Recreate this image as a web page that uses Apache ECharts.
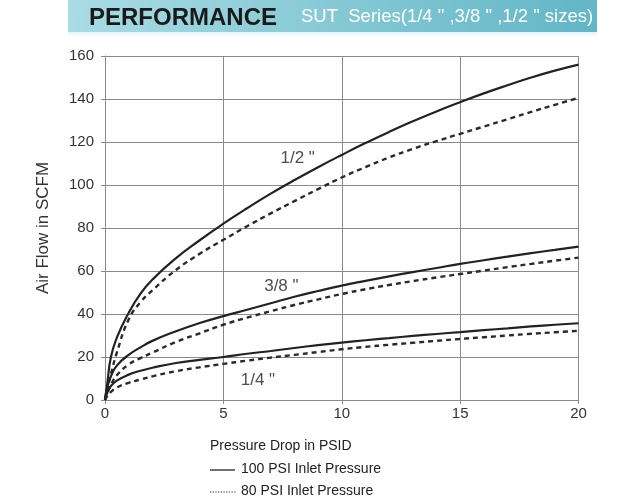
<!DOCTYPE html>
<html>
<head>
<meta charset="utf-8">
<script src="https://cdn.jsdelivr.net/npm/echarts@6/dist/echarts.min.js"></script>
<style>
html,body{margin:0;padding:0;background:#fff;}
#chart{width:624px;height:501px;}
</style>
</head>
<body>
<div id="chart"></div>
<script>
// Pressure drop (PSID)
var pressureDrop = [0, 0.1, 0.25, 0.5, 1, 1.5, 2, 3, 4, 5, 6, 7, 8, 9, 10, 11, 12, 13, 14, 15, 16, 17, 18, 19, 20];
// Air flow (SCFM)
var half100 = [0, 8, 20, 29, 40.5, 49.5, 56, 66, 74.3, 82, 89.2, 96, 102.3, 108.3, 114, 119.5, 124.7, 129.6, 134.2, 138.5, 142.6, 146.4, 150, 153.2, 156];
var half80  = [0, 5, 12, 22, 37.5, 45.5, 51, 60.5, 68, 74.5, 80.8, 86.8, 92.5, 98.1, 103.5, 108.3, 112.8, 116.8, 120.4, 123.8, 127.2, 130.6, 134, 137.3, 140.5];
var tq100   = [0, 6, 11, 16, 21, 24.5, 27.5, 32, 35.8, 39, 42, 45, 48, 50.7, 53.2, 55.4, 57.5, 59.5, 61.4, 63.3, 65, 66.7, 68.3, 69.8, 71.3];
var tq80    = [0, 3.5, 7, 11.5, 16.5, 19.5, 22, 27, 31, 35, 38.3, 41.3, 44.2, 46.8, 49.3, 51.5, 53.5, 55.3, 57, 58.6, 60.2, 61.8, 63.3, 64.8, 66.2];
var q100    = [0, 3.5, 6.5, 9, 11.8, 13.6, 15, 17.2, 18.7, 20, 21.5, 22.8, 24.2, 25.5, 26.7, 27.8, 28.8, 29.8, 30.7, 31.6, 32.5, 33.3, 34.2, 35, 35.7];
var q80     = [0, 2, 3.8, 5.8, 8, 9.5, 11, 13.4, 15.2, 16.8, 18.3, 19.7, 21, 22.3, 23.6, 24.7, 25.7, 26.6, 27.5, 28.4, 29.2, 30, 30.8, 31.5, 32.2];

var sizeLabels = ['1/2 "', '3/8 "', '1/4 "'];
var sizeLabelX = [8.14, 7.45, 6.46];
var sizeLabelY = [112.6, 53, 9];

var xTicks = [0, 5, 10, 15, 20];
var yTicks = [0, 20, 40, 60, 80, 100, 120, 140, 160];

var titleMain = 'PERFORMANCE';
var titleSub = 'SUT  Series(1/4 " ,3/8 " ,1/2 " sizes)';
var xName = 'Pressure Drop in PSID';
var yName = 'Air Flow in SCFM';
var legend100 = '100 PSI Inlet Pressure';
var legend80 = '80 PSI Inlet Pressure';

function pairs(ys) { return pressureDrop.map(function (x, i) { return [x, ys[i]]; }); }

var FONT = '"Liberation Sans", Arial, sans-serif';
var chart = echarts.init(document.getElementById('chart'), null, {renderer: 'canvas'});

var solidStyle = {color: '#222', width: 2.2, type: 'solid'};
var dashStyle = {color: '#2a2a2a', width: 2.4, type: [5, 4]};

function lineSeries(name, ys, style) {
  return {
    name: name, type: 'line', data: pairs(ys), symbol: 'none',
    smooth: 0.5,
    lineStyle: style, silent: true, animation: false, z: 3
  };
}

var option = {
  animation: false,
  backgroundColor: '#fff',
  grid: {left: 105, right: 45.5, top: 56, bottom: 101, containLabel: false, outerBoundsMode: 'none'},
  xAxis: {
    type: 'value', min: 0, max: 20, interval: 5,
    axisLine: {show: true, lineStyle: {color: '#8a8a8a', width: 1}},
    axisTick: {show: true, length: 4, lineStyle: {color: '#8a8a8a'}},
    splitLine: {show: true, lineStyle: {color: '#8a8a8a', width: 1}},
    axisLabel: {color: '#333', fontSize: 15, fontFamily: FONT, margin: 6,
      formatter: function (v) { return xTicks.indexOf(v) >= 0 ? String(v) : ''; }}
  },
  yAxis: {
    type: 'value', min: 0, max: 160, interval: 20,
    name: yName, nameLocation: 'middle', nameGap: 53, nameRotate: 90,
    nameTextStyle: {color: '#333', fontSize: 17, fontFamily: FONT},
    axisLine: {show: true, lineStyle: {color: '#8a8a8a', width: 1}},
    axisTick: {show: true, length: 4, lineStyle: {color: '#8a8a8a'}},
    splitLine: {show: true, lineStyle: {color: '#8a8a8a', width: 1}},
    axisLabel: {color: '#333', fontSize: 15, fontFamily: FONT, margin: 11,
      formatter: function (v) { return yTicks.indexOf(v) >= 0 ? String(v) : ''; }}
  },
  series: [
    lineSeries('1/2 100', half100, solidStyle),
    lineSeries('1/2 80', half80, dashStyle),
    lineSeries('3/8 100', tq100, solidStyle),
    lineSeries('3/8 80', tq80, dashStyle),
    lineSeries('1/4 100', q100, solidStyle),
    lineSeries('1/4 80', q80, dashStyle),
    {
      type: 'scatter', symbolSize: 0, silent: true, z: 5,
      data: sizeLabels.map(function (t, i) { return [sizeLabelX[i], sizeLabelY[i], t]; }),
      label: {show: true, position: 'inside', color: '#222', fontSize: 17, fontFamily: FONT,
        formatter: function (p) { return p.data[2]; }}
    }
  ],
  graphic: [
    {type: 'rect', left: 68, top: 0, z: 0, shape: {width: 529, height: 32},
      style: {fill: new echarts.graphic.LinearGradient(0, 0, 1, 0.3, [
        {offset: 0, color: '#a9dce4'}, {offset: 1, color: '#62b6c6'}])}},
    {type: 'rect', left: 68, top: 32, z: 0, shape: {width: 529, height: 5},
      style: {fill: new echarts.graphic.LinearGradient(0, 0, 0, 1, [
        {offset: 0, color: '#e2f3f6'}, {offset: 1, color: '#ffffff'}])}},
    {type: 'text', left: 89, top: 6, z: 2,
      style: {text: titleMain, fill: '#1a1a1a', font: 'bold 24px ' + FONT}},
    {type: 'text', left: 301, top: 7, z: 2,
      style: {text: titleSub, fill: '#ffffff', font: '18.5px ' + FONT}},
    {type: 'text', left: 210, top: 439, z: 2,
      style: {text: xName, fill: '#222', font: '14px ' + FONT}},
    {type: 'line', z: 2, shape: {x1: 210, y1: 470, x2: 235, y2: 470},
      style: {stroke: '#222', lineWidth: 1.3}},
    {type: 'text', left: 241, top: 462, z: 2,
      style: {text: legend100, fill: '#222', font: '14px ' + FONT}},
    {type: 'line', z: 2, shape: {x1: 210, y1: 492, x2: 237, y2: 492},
      style: {stroke: '#222', lineWidth: 1.2, lineDash: [1.2, 1.5]}},
    {type: 'text', left: 241, top: 484, z: 2,
      style: {text: legend80, fill: '#222', font: '14px ' + FONT}}
  ]
};
chart.setOption(option);
</script>
</body>
</html>
